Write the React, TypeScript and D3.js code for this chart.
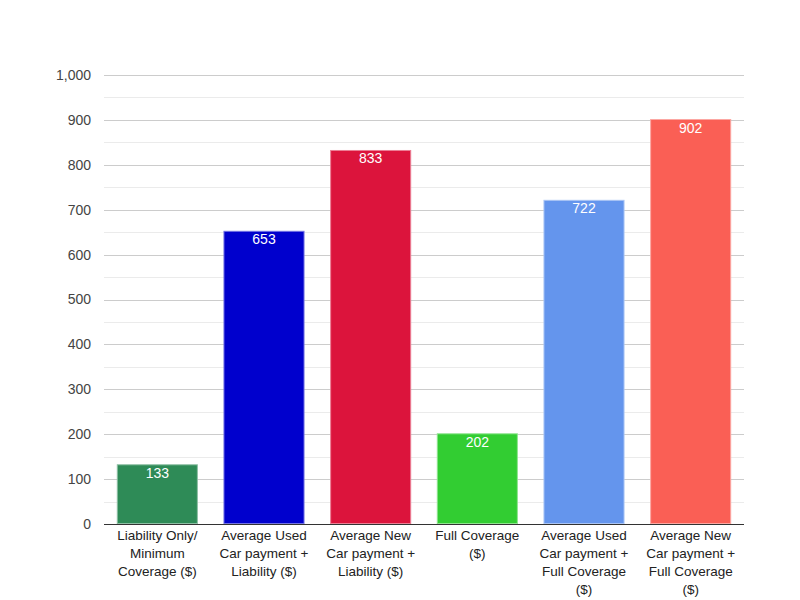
import React from 'react'
import * as d3 from 'd3'

const categories = [
  ['Liability Only/', 'Minimum', 'Coverage ($)'],
  ['Average Used', 'Car payment +', 'Liability ($)'],
  ['Average New', 'Car payment +', 'Liability ($)'],
  ['Full Coverage', '($)'],
  ['Average Used', 'Car payment +', 'Full Coverage', '($)'],
  ['Average New', 'Car payment +', 'Full Coverage', '($)'],
]
const values = [133, 653, 833, 202, 722, 902]
const colors = ['#2e8b57', '#0000cd', '#dc143c', '#32cd32', '#6495ed', '#fa5f55']
const yTicks = [0, 100, 200, 300, 400, 500, 600, 700, 800, 900, 1000]

const W = 800
const H = 600
const left = 104
const right = 744
const top = 75
const bottom = 524
const font = '"Liberation Sans", Arial, sans-serif'

export default function App() {
  const x = d3
    .scaleBand<number>()
    .domain(values.map((_, i) => i))
    .range([left, right])
    .paddingInner(0.24)
    .paddingOuter(0.12)
  const y = d3.scaleLinear().domain([0, 1000]).range([bottom, top])
  const minor = d3.range(50, 1000, 100)
  const fmt = d3.format(',')

  return (
    <svg
      width={W}
      height={H}
      style={{position: 'absolute', left: 0, top: 0, background: '#fff'}}
      fontFamily={font}
    >
      {minor.map((t) => (
        <line key={'m' + t} x1={left} x2={right} y1={Math.round(y(t)) + 0.5} y2={Math.round(y(t)) + 0.5} stroke="#ebebeb" />
      ))}
      {yTicks.map((t) => (
        <g key={t}>
          {t > 0 && (
            <line x1={left} x2={right} y1={Math.round(y(t)) + 0.5} y2={Math.round(y(t)) + 0.5} stroke="#cccccc" />
          )}
          <text x={91} y={y(t)} dy="0.35em" textAnchor="end" fontSize={14} fill="#444">
            {fmt(t)}
          </text>
        </g>
      ))}
      {values.map((v, i) => {
        const bx = x(i) as number
        const by = y(v)
        const cx = bx + x.bandwidth() / 2
        return (
          <g key={i}>
            <rect
              x={bx + 0.5}
              y={by + 0.5}
              width={x.bandwidth() - 1}
              height={bottom - by - 1}
              fill={colors[i]}
              stroke={d3.interpolateRgb(colors[i], '#ffffff')(0.45)}
            />
            <text x={cx} y={by + 13.5} textAnchor="middle" fontSize={14} fill="#fff">
              {v}
            </text>
            {categories[i].map((line, j) => (
              <text key={j} x={cx} y={540 + j * 18} textAnchor="middle" fontSize={13.5} fill="#222">
                {line}
              </text>
            ))}
          </g>
        )
      })}
      <line x1={left} x2={right} y1={bottom + 0.5} y2={bottom + 0.5} stroke="#333" />
    </svg>
  )
}
